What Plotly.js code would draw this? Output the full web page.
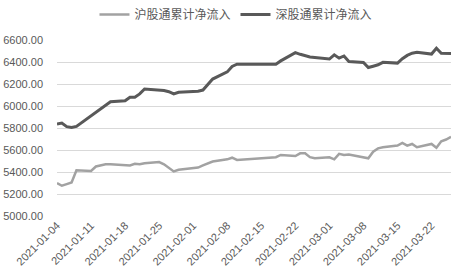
<!DOCTYPE html>
<html><head><meta charset="utf-8">
<script src="https://cdn.plot.ly/plotly-3.0.1.min.js"></script>
<style>html,body{margin:0;padding:0;background:#fff}#chart{width:460px;height:278px}</style>
</head><body><div id="chart"></div>
<script>
const dates = [
'2021-01-04','2021-01-05','2021-01-06','2021-01-07','2021-01-08',
'2021-01-11','2021-01-12','2021-01-13','2021-01-14','2021-01-15',
'2021-01-18','2021-01-19','2021-01-20','2021-01-21','2021-01-22',
'2021-01-25','2021-01-26','2021-01-27','2021-01-28','2021-01-29',
'2021-02-01','2021-02-02','2021-02-03','2021-02-04','2021-02-05',
'2021-02-08','2021-02-09','2021-02-10','2021-02-18','2021-02-19',
'2021-02-22','2021-02-23','2021-02-24','2021-02-25','2021-02-26',
'2021-03-01','2021-03-02','2021-03-03','2021-03-04','2021-03-05',
'2021-03-08','2021-03-09','2021-03-10','2021-03-11','2021-03-12',
'2021-03-15','2021-03-16','2021-03-17','2021-03-18','2021-03-19',
'2021-03-22','2021-03-23','2021-03-24','2021-03-25','2021-03-26'];
const shNet = [
5300,5275,5290,5305,5415,
5410,5450,5460,5470,5470,
5465,5460,5475,5470,5480,
5490,5470,5440,5405,5420,
5435,5440,5460,5480,5495,
5515,5530,5510,5535,5555,
5545,5570,5570,5535,5525,
5533,5515,5565,5555,5560,
5535,5525,5585,5615,5625,
5640,5665,5640,5655,5625,
5655,5620,5680,5695,5720];
const szNet = [
5835,5845,5812,5805,5815,
5910,5940,5975,6005,6038,
6048,6080,6080,6110,6155,
6145,6140,6130,6110,6125,
6132,6135,6145,6195,6245,
6310,6360,6380,6380,6410,
6485,6470,6455,6445,6440,
6427,6465,6435,6455,6405,
6395,6350,6362,6375,6397,
6390,6430,6460,6480,6488,
6472,6525,6480,6478,6478];
const yTicks = [5000,5200,5400,5600,5800,6000,6200,6400,6600];

const traces = [
 {x: dates, y: shNet, name: '沪股通累计净流入', type: 'scatter', mode: 'lines',
  line: {color: '#a2a2a2', width: 2.5}},
 {x: dates, y: szNet, name: '深股通累计净流入', type: 'scatter', mode: 'lines',
  line: {color: '#595959', width: 3}}
];
const layout = {
 width: 460, height: 278,
 margin: {l: 57, r: 9, t: 40, b: 62},
 paper_bgcolor: '#fff', plot_bgcolor: '#fff',
 font: {family: 'Liberation Sans, Arial, sans-serif', size: 11, color: '#595959'},
 showlegend: true,
 legend: {orientation: 'h', x: 0.513, xref: 'container', xanchor: 'center', y: 1, yanchor: 'top', yref: 'container',
  font: {family: 'Noto Sans CJK SC, sans-serif', size: 12, color: '#595959'},
  itemwidth: 30, tracegroupgap: 0},
 xaxis: {type: 'date', range: ['2021-01-04', '2021-03-26'], tick0: '2021-01-04', dtick: 7*86400000,
  tickformat: '%Y-%m-%d', tickangle: -45, showgrid: false, zeroline: false, showline: false,
  ticks: '', tickfont: {family: 'Liberation Sans, Arial, sans-serif', size: 11, color: '#595959'}},
 yaxis: {range: [5000, 6600], tickvals: yTicks, tickformat: '.2f', showgrid: true, gridcolor: '#d9d9d9',
  gridwidth: 1, zeroline: false, showline: false, ticks: '', ticklabelstandoff: 13,
  tickfont: {family: 'Liberation Sans, Arial, sans-serif', size: 11, color: '#595959'}}
};
Plotly.newPlot('chart', traces, layout, {displayModeBar: false, staticPlot: true});
</script></body></html>
